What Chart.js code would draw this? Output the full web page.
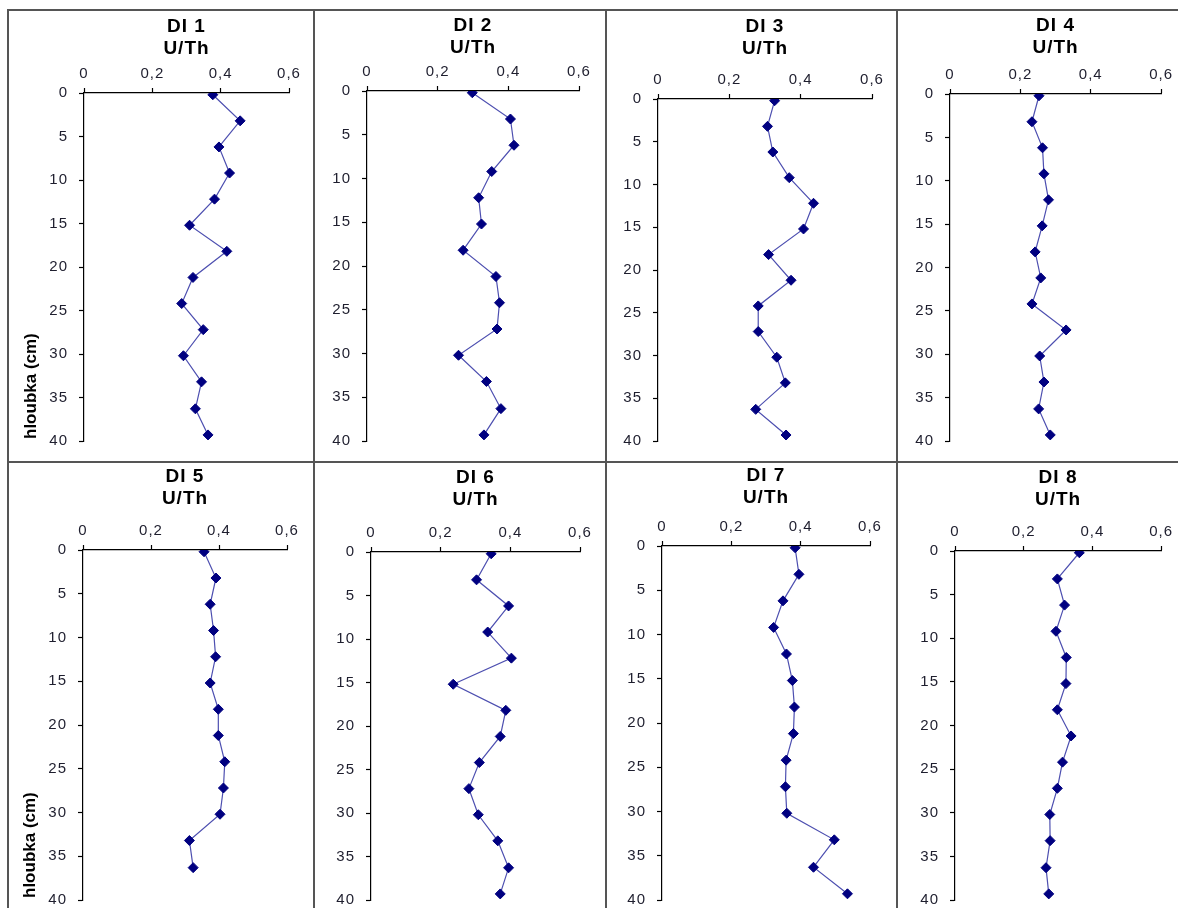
<!DOCTYPE html>
<html>
<head>
    <title>U/Th</title>
    <script src="https://cdn.jsdelivr.net/npm/chart.js"></script>
    <style>
        body { margin: 0; background: white; overflow: hidden; width: 1178px; height: 908px; position: relative; }
        canvas { position: absolute; }
        .line { position: absolute; background: #555; }
    </style>
    <script>
        // depth of the samples (cm) and U/Th ratio for each profile
        const depths = [0.2, 3.2, 6.2, 9.2, 12.2, 15.2, 18.2, 21.2, 24.2, 27.2, 30.2, 33.2, 36.3, 39.3];
        const names = ['DI 1', 'DI 2', 'DI 3', 'DI 4', 'DI 5', 'DI 6', 'DI 7', 'DI 8'];
        const quantity = 'U/Th';
        const depthLabel = 'hloubka (cm)';
        const xTicks = [0, 0.2, 0.4, 0.6];
        const yTicks = [0, 5, 10, 15, 20, 25, 30, 35, 40];

        const di1 = [0.377, 0.457, 0.395, 0.426, 0.382, 0.309, 0.418, 0.319, 0.286, 0.349, 0.291, 0.344, 0.326, 0.363];
        const di2 = [0.298, 0.406, 0.416, 0.353, 0.316, 0.324, 0.272, 0.365, 0.375, 0.368, 0.259, 0.338, 0.379, 0.331];
        const di3 = [0.327, 0.307, 0.322, 0.368, 0.436, 0.408, 0.310, 0.373, 0.281, 0.281, 0.333, 0.357, 0.274, 0.359];
        const di4 = [0.253, 0.233, 0.263, 0.267, 0.280, 0.262, 0.242, 0.258, 0.233, 0.330, 0.255, 0.267, 0.252, 0.285];
        const di5 = [0.356, 0.391, 0.374, 0.384, 0.390, 0.374, 0.398, 0.398, 0.417, 0.413, 0.403, 0.313, 0.324];
        const di6 = [0.345, 0.303, 0.395, 0.335, 0.403, 0.236, 0.387, 0.371, 0.311, 0.281, 0.308, 0.364, 0.395, 0.371];
        const di7 = [0.384, 0.395, 0.349, 0.322, 0.359, 0.376, 0.382, 0.379, 0.358, 0.356, 0.360, 0.497, 0.437, 0.535];
        const di8 = [0.362, 0.298, 0.319, 0.294, 0.324, 0.323, 0.298, 0.338, 0.313, 0.298, 0.276, 0.277, 0.265, 0.273];
        const profiles = [di1, di2, di3, di4, di5, di6, di7, di8];

        // grid lines of the table (left edges of the 2px lines)
        const colX = [7, 313, 605, 896, 1178];
        const rowY = [9, 461, 920];

        // plot area of each small chart [left, top, right, bottom] and centre of first title line
        const plotBoxes = [
            [84, 93, 289, 447], [367, 91, 579, 449], [658, 99, 872, 444], [950, 94, 1162, 452],
            [83, 550, 287, 900], [371, 552, 580, 901], [662, 546, 870, 902], [955, 551, 1162, 902]
        ];
        const titleCentres = [26.5, 26, 26.5, 26, 477, 477.5, 475.5, 477.5];

        const fontFamily = "'Liberation Sans', Arial, sans-serif";
        const titleLine = 22;

        function drawGridLines() {
            for (let i = 0; i < colX.length - 1; i++) {
                const d = document.createElement('div');
                d.className = 'line';
                d.style.left = colX[i] + 'px';
                d.style.top = rowY[0] + 'px';
                d.style.width = '2px';
                d.style.height = (908 - rowY[0]) + 'px';
                document.body.appendChild(d);
            }
            for (let j = 0; j < 2; j++) {
                const d = document.createElement('div');
                d.className = 'line';
                d.style.left = colX[0] + 'px';
                d.style.top = rowY[j] + 'px';
                d.style.width = (1178 - colX[0]) + 'px';
                d.style.height = '2px';
                document.body.appendChild(d);
            }
        }

        // wider letter spacing like the original spreadsheet output
        const spacingPlugin = {
            id: 'spacing',
            beforeUpdate(chart) { chart.ctx.letterSpacing = '1px'; },
            beforeDraw(chart) { chart.ctx.letterSpacing = '1px'; }
        };

        // rotated depth label at the bottom of the y axis
        const depthTitlePlugin = {
            id: 'depthTitle',
            afterDraw(chart) {
                const ctx = chart.ctx;
                const area = chart.chartArea;
                ctx.save();
                ctx.letterSpacing = '0px';
                ctx.translate(area.left - 53, area.bottom - 2);
                ctx.rotate(-Math.PI / 2);
                ctx.font = 'bold 17px ' + fontFamily;
                ctx.fillStyle = '#000';
                ctx.textAlign = 'left';
                ctx.textBaseline = 'middle';
                ctx.fillText(depthLabel, 0, 0);
                ctx.restore();
            }
        };

        function makeChart(i) {
            const col = i % 4;
            const row = Math.floor(i / 4);
            const cx0 = colX[col] + 2;
            const cx1 = colX[col + 1];
            const cy0 = rowY[row] + 2;
            const cy1 = rowY[row + 1];
            const [L, T, R, B] = plotBoxes[i];

            const canvas = document.createElement('canvas');
            canvas.width = cx1 - cx0;
            canvas.height = cy1 - cy0;
            canvas.style.left = cx0 + 'px';
            canvas.style.top = cy0 + 'px';
            document.body.appendChild(canvas);

            const padTop = titleCentres[i] - cy0 - titleLine / 2;
            const xAxisHeight = T - cy0 - padTop - 2 * titleLine;
            const yAxisWidth = L - cx0;
            const vals = profiles[i];
            const points = vals.map((v, k) => ({ x: v, y: depths[k] }));

            const plugins = [spacingPlugin];
            if (col === 0) plugins.push(depthTitlePlugin);

            new Chart(canvas, {
                type: 'scatter',
                data: {
                    datasets: [{
                        data: points,
                        showLine: true,
                        borderColor: '#4d4fb0',
                        borderWidth: 1.2,
                        pointStyle: 'rectRot',
                        pointRadius: 5,
                        pointBackgroundColor: '#000080',
                        pointBorderColor: '#000080',
                        pointBorderWidth: 1
                    }]
                },
                options: {
                    responsive: false,
                    animation: false,
                    events: [],
                    layout: { padding: { left: 0, top: 0, right: cx1 - R, bottom: cy1 - B } },
                    plugins: {
                        legend: { display: false },
                        tooltip: { enabled: false },
                        title: {
                            display: true,
                            fullSize: false,
                            text: [names[i], quantity],
                            color: '#000',
                            font: { family: fontFamily, size: 19, weight: 'bold', lineHeight: titleLine / 19 },
                            padding: { top: padTop, bottom: 0 }
                        }
                    },
                    scales: {
                        x: {
                            type: 'linear',
                            position: 'top',
                            min: 0,
                            max: 0.6,
                            afterFit: s => { s.height = xAxisHeight; },
                            afterBuildTicks: s => { s.ticks = xTicks.map(v => ({ value: v })); },
                            ticks: {
                                color: '#1e1e2e',
                                padding: 5,
                                font: { family: fontFamily, size: 15 },
                                callback: v => v === 0 ? '0' : v.toFixed(1).replace('.', ',')
                            },
                            grid: { drawOnChartArea: false, tickLength: 5, tickColor: '#000', tickWidth: 1.2 },
                            border: { color: '#000', width: 1.2 }
                        },
                        y: {
                            type: 'linear',
                            reverse: true,
                            min: 0,
                            max: 40,
                            afterFit: s => { s.width = yAxisWidth; },
                            afterBuildTicks: s => { s.ticks = yTicks.map(v => ({ value: v })); },
                            ticks: {
                                color: '#1e1e2e',
                                padding: 11,
                                font: { family: fontFamily, size: 15 }
                            },
                            grid: { drawOnChartArea: false, tickLength: 5, tickColor: '#000', tickWidth: 1.2 },
                            border: { color: '#000', width: 1.2 }
                        }
                    }
                },
                plugins: plugins
            });
        }

        document.addEventListener('DOMContentLoaded', () => {
            drawGridLines();
            for (let i = 0; i < names.length; i++) makeChart(i);
        });
    </script>
</head>
<body>
</body>
</html>
